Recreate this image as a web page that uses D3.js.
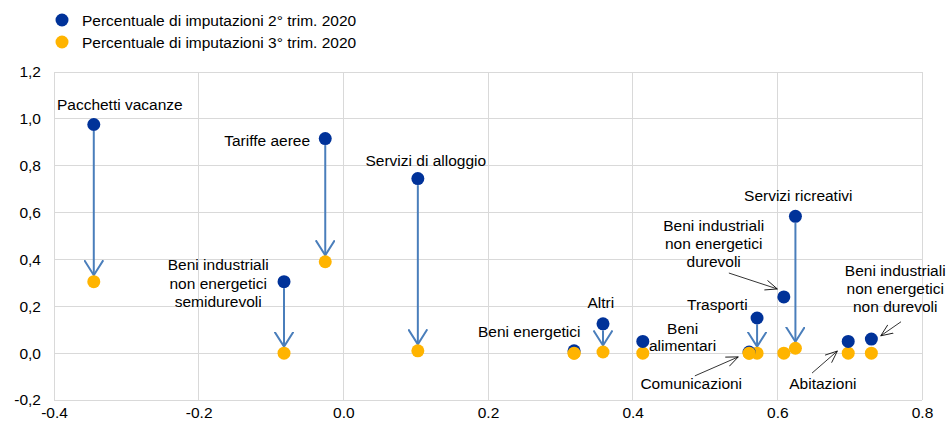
<!DOCTYPE html>
<html><head><meta charset="utf-8">
<script src="https://cdn.jsdelivr.net/npm/d3@7"></script>
<style>
body{margin:0;background:#fff;}
text{font-family:"Liberation Sans",Arial,sans-serif;fill:#000;}
</style></head>
<body><svg id="c" width="947" height="423"></svg>
<script>
// Data
const categories = ["Pacchetti vacanze","Tariffe aeree","Servizi di alloggio","Beni industriali non energetici semidurevoli","Beni energetici","Altri","Beni alimentari","Comunicazioni","Trasporti","Beni industriali non energetici durevoli","Servizi ricreativi","Abitazioni","Beni industriali non energetici non durevoli"];
const xValues  = [-0.345, -0.025, 0.103, -0.082, 0.319, 0.359, 0.414, 0.561, 0.572, 0.609, 0.625, 0.698, 0.730];
const q2Values = [0.976, 0.916, 0.745, 0.305, 0.010, 0.125, 0.050, 0.005, 0.150, 0.240, 0.584, 0.050, 0.060];
const q3Values = [0.305, 0.390, 0.010, 0.000, 0.000, 0.005, 0.000, 0.000, 0.000, 0.000, 0.021, 0.000, 0.000];
const hasArrow = [true, true, true, true, false, true, false, false, true, false, true, false, false];
const seriesNames = ["Percentuale di imputazioni 2° trim. 2020","Percentuale di imputazioni 3° trim. 2020"];
const seriesColors = ["#003299","#ffb400"];
const xTicks = [-0.4,-0.2,0.0,0.2,0.4,0.6,0.8];
const yTicks = [-0.2,0.0,0.2,0.4,0.6,0.8,1.0,1.2];
const labelLines = [
  ["Pacchetti vacanze"],["Tariffe aeree"],["Servizi di alloggio"],
  ["Beni industriali","non energetici","semidurevoli"],["Beni energetici"],["Altri"],
  ["Beni","alimentari"],["Comunicazioni"],["Trasporti"],
  ["Beni industriali","non energetici","durevoli"],["Servizi ricreativi"],["Abitazioni"],
  ["Beni industriali","non energetici","non durevoli"]
];
// label anchor in data coords (first line)
const labelPos = [
  [-0.309, 1.063],[-0.046, 0.910],[0.114, 0.824],
  [-0.173, 0.380],[0.257, 0.095],[0.356, 0.218],
  [0.469, 0.107],[0.481, -0.127],[0.517, 0.210],
  [0.512, 0.548],[0.629, 0.675],[0.663, -0.127],
  [0.763, 0.355]
];
const labelAnchor = ["middle","end","middle","middle","middle","middle","middle","middle","middle","middle","middle","middle","middle"];
const labelSpacing = [18,18,18,18.5,18,18,16.5,18,18,18,18,18,18];
// leader arrows [x1,y1,x2,y2] in data units
const leaders = [
  [0.533, 0.342, 0.600, 0.274],
  [0.486, -0.097, 0.546, -0.016],
  [0.648, -0.085, 0.683, 0.009],
  [0.771, 0.134, 0.743, 0.074]
];

const svg = d3.select("#c");
const m = {l:54, r:25, t:72, b:23};
const W = 947, H = 423;
const FS = "15.5px";
const x = d3.scaleLinear().domain([-0.4,0.8]).range([m.l, W-m.r]);
const y = d3.scaleLinear().domain([-0.2,1.2]).range([H-m.b, m.t]);

// gridlines
const grid = svg.append("g");
grid.selectAll("line.v").data(xTicks).join("line")
  .attr("x1",d=>x(d)).attr("x2",d=>x(d)).attr("y1",y(-0.2)).attr("y2",y(1.2))
  .attr("stroke","#d9d9d9").attr("stroke-width",1).attr("shape-rendering","crispEdges");
grid.selectAll("line.h").data(yTicks).join("line")
  .attr("x1",x(-0.4)).attr("x2",x(0.8)).attr("y1",d=>y(d)).attr("y2",d=>y(d))
  .attr("stroke","#d9d9d9").attr("stroke-width",1).attr("shape-rendering","crispEdges");

// axes
const fmtY = d=>d3.format(".1f")(d).replace(".",",").replace("−","-");
const xAxis = svg.append("g").attr("transform",`translate(0,${H-m.b})`)
  .call(d3.axisBottom(x).tickValues(xTicks).tickSize(0).tickPadding(7).tickFormat(d=>d3.format(".1f")(d).replace("−","-")));
xAxis.select(".domain").remove();
xAxis.selectAll("text").style("font-size",FS).style("font-family","'Liberation Sans', Arial, sans-serif");
const yAxis = svg.append("g").attr("transform",`translate(${m.l},0)`)
  .call(d3.axisLeft(y).tickValues(yTicks).tickSize(0).tickPadding(13).tickFormat(fmtY));
yAxis.select(".domain").remove();
yAxis.selectAll("text").style("font-size",FS).style("font-family","'Liberation Sans', Arial, sans-serif");

// arrow markers
const defs = svg.append("defs");
defs.append("marker").attr("id","vhead").attr("viewBox","0 0 20 20").attr("refX",15).attr("refY",10)
  .attr("markerWidth",20).attr("markerHeight",20).attr("markerUnits","userSpaceOnUse").attr("orient","auto")
  .append("path").attr("d","M0,0.5 L15,10 L0,19.5").attr("fill","none").attr("stroke","#4a7ebb").attr("stroke-width",2);
defs.append("marker").attr("id","khead").attr("viewBox","0 0 14 14").attr("refX",12).attr("refY",7)
  .attr("markerWidth",14).attr("markerHeight",14).attr("markerUnits","userSpaceOnUse").attr("orient","auto")
  .append("path").attr("d","M0,2 L12,7 L0,12").attr("fill","none").attr("stroke","#000").attr("stroke-width",0.8);

const idx = d3.range(categories.length);
const R = 6.5;
// drop arrows
svg.append("g").selectAll("line").data(idx.filter(i=>hasArrow[i])).join("line")
  .attr("x1",i=>x(xValues[i])).attr("x2",i=>x(xValues[i]))
  .attr("y1",i=>y(q2Values[i])+R).attr("y2",i=>y(q3Values[i])-R)
  .attr("stroke","#4a7ebb").attr("stroke-width",2).attr("marker-end","url(#vhead)");

// leader lines
svg.append("g").selectAll("line").data(leaders).join("line")
  .attr("x1",d=>x(d[0])).attr("y1",d=>y(d[1])).attr("x2",d=>x(d[2])).attr("y2",d=>y(d[3]))
  .attr("stroke","#000").attr("stroke-width",0.8).attr("marker-end","url(#khead)");

// points
svg.append("g").selectAll("circle").data(idx).join("circle")
  .attr("cx",i=>x(xValues[i])).attr("cy",i=>y(q3Values[i])).attr("r",R).attr("fill",seriesColors[1]);
svg.append("g").selectAll("circle").data(idx).join("circle")
  .attr("cx",i=>x(xValues[i])).attr("cy",i=>y(q2Values[i])).attr("r",R).attr("fill",seriesColors[0]);
svg.append("g").selectAll("circle").data(idx.filter(i=>q2Values[i]<0.02)).join("circle")
  .attr("cx",i=>x(xValues[i])).attr("cy",i=>y(q3Values[i])).attr("r",R).attr("fill",seriesColors[1]);

// labels
const lg = svg.append("g");
idx.forEach(i=>{
  const t = lg.append("text").attr("x",x(labelPos[i][0])).attr("y",y(labelPos[i][1]))
    .attr("text-anchor",labelAnchor[i]).attr("dominant-baseline","central").style("font-size",FS);
  labelLines[i].forEach((s,k)=>{
    t.append("tspan").attr("x",x(labelPos[i][0])).attr("dy",k===0?0:labelSpacing[i]).text(s);
  });
});

// legend
const leg = svg.append("g");
seriesNames.forEach((s,k)=>{
  leg.append("circle").attr("cx",62).attr("cy",20+k*22).attr("r",R).attr("fill",seriesColors[k]);
  leg.append("text").attr("x",82).attr("y",20+k*22).attr("dominant-baseline","central").style("font-size",FS).text(s);
});
</script></body></html>
